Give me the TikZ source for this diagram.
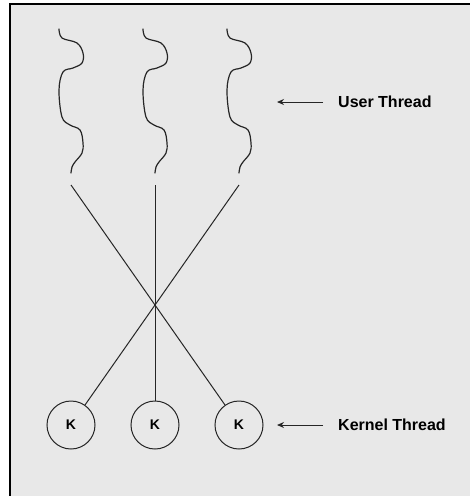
\documentclass[tikz,border=0pt]{standalone}
\usepackage{fontspec}
\setmainfont{Liberation Sans}
\usetikzlibrary{arrows.meta}

\definecolor{panel}{HTML}{E8E8E8}
\definecolor{ink}{HTML}{262626}

\tikzset{
    thread/.style = {ink, line width=1.2pt, line cap=round},
    link/.style = {ink, line width=1pt},
    kernel/.style = {circle, draw=ink, line width=1pt, minimum size=48pt, inner sep=0pt,
                     font=\fontsize{14}{14}\selectfont\bfseries},
    tag/.style = {anchor=west, inner xsep=15pt, inner ysep=0pt,
                  font=\fontsize{16}{16}\selectfont\bfseries},
    pointer/.style = {ink, line width=1pt, -{Stealth[length=7pt,width=6pt]}}
}

\begin{document}
\begin{tikzpicture}[x=1pt, y=-1pt]

    \useasboundingbox (0,0) rectangle (470,496);
    \fill[panel] (10,4) rectangle (470,496);
    \draw[black, line width=1.6pt] (10,496) -- (10,4) -- (470,4);

    % user threads (wavy lines)
    \foreach \cx in {71,155,239}
    \draw[thread, shift={(\cx,0)}] plot[smooth, tension=0.6] coordinates
        {(-12,29) (-9,38) (6,43) (12,53) (11,63) (2,68) (-8,72) (-12,90)
         (-9,117) (-1,125) (9,130) (12,143) (11,153) (4,162) (1,167) (0,173)};

    % kernel threads
    \node[kernel] (k1) at (71,425) {K};
    \node[kernel] (k2) at (155,425) {K};
    \node[kernel] (k3) at (239,425) {K};

    \coordinate (u1) at (71,185);
    \coordinate (u2) at (155,185);
    \coordinate (u3) at (239,185);

    \draw[link] (u1) -- (k3);
    \draw[link] (u2) -- (k2);
    \draw[link] (u3) -- (k1);

    % labels
    \node[tag] (user) at (323,102) {User Thread};
    \node[tag] (kern) at (323,425) {Kernel Thread};
    \coordinate (userTip) at (277,102);
    \coordinate (kernTip) at (277,425);
    \draw[pointer] (user) -- (userTip);
    \draw[pointer] (kern) -- (kernTip);

\end{tikzpicture}
\end{document}
